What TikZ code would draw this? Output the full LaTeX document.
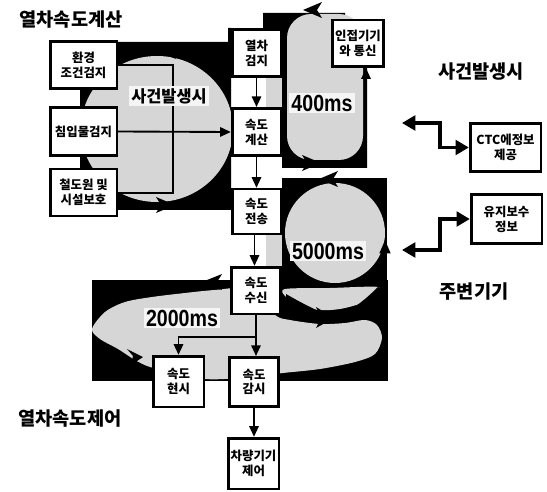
\documentclass[tikz,border=0pt]{standalone}
\usepackage{fontspec}
\setmainfont{Noto Sans CJK KR}
\newfontfamily\krf{Noto Sans CJK KR}
\newfontfamily\arf{Liberation Sans}
\usetikzlibrary{arrows.meta}
\newcommand\boxfont{\krf\bfseries\fontsize{9.3}{11.2}\selectfont}
\newcommand\ttlfont{\krf\bfseries\fontsize{14}{16}\selectfont}
\newcommand\inttlfont{\krf\bfseries\fontsize{12.3}{14}\selectfont}
\newcommand\msfont{\arf\bfseries\fontsize{17.5}{18}\selectfont}
\newcommand\msn[1]{\scalebox{0.84}[1]{#1}}
\begin{document}
\begin{tikzpicture}[x=0.75pt,y=-0.75pt,
  box/.style={draw,line width=2pt,fill=white,inner sep=0pt,align=center,font=\boxfont},
  arr/.style={line width=1.4pt,-{Triangle[length=8pt,width=7pt]}},
  darr/.style={line width=2.8pt,{Triangle[length=10pt,width=11pt]}-{Triangle[length=10pt,width=11pt]}},
  ln/.style={line width=1.4pt},
  blk/.style={fill=black},
  gry/.style={fill=black!16},
  ttl/.style={font=\ttlfont,inner sep=0pt},
  mslab/.style={font=\msfont,fill=black!4,inner sep=1.5pt}
]
\path[use as bounding box] (0,0) rectangle (547,492);

% black backgrounds
\fill[blk] (80,42) -- (228,42) -- (228,28) -- (231,28) -- (231,210) -- (80,210) -- cycle;
\fill[blk] (263,13) -- (345,13) -- (345,30) -- (367,30) -- (367,168) -- (282,168) -- (282,28) -- (263,28) -- cycle;
\fill[blk] (282,178) rectangle (387,292);
\fill[blk] (92,280) rectangle (388,381);

% grey areas
\fill[gry] (157,129) ellipse [x radius=76, y radius=73];
\fill[gry, rounded corners=18pt] (287,14) rectangle (363,160);
\fill[gry] (266,78) rectangle (282,107);
\fill[gry] (335,233) circle [radius=50];
\fill[gry] (266,235) rectangle (282,266);
\fill[gry] plot[smooth cycle, tension=0.5] coordinates {(285,289) (330,288) (378,287) (370,296) (362,303) (340,309) (318,310) (300,305) (286,297)};
\fill[gry] plot[smooth cycle, tension=0.5] coordinates {(92,329) (105,312) (125,302) (152,297) (185,293) (215,290) (250,289) (275,315) (290,320) (320,324) (345,323) (365,320) (377,325) (382,338) (375,354) (355,362) (320,369) (283,373) (240,378) (205,379) (175,372) (150,367) (135,360) (118,349) (100,339)};

% circulating arrowheads
\fill[blk] (157,51) -- (176,43) -- (171,51) -- (176,59) -- cycle;
\fill[blk] (175,205) -- (156,197) -- (161,205) -- (156,213) -- cycle;
\fill[blk] (303,10) -- (322,2) -- (317,10) -- (322,18) -- cycle;
\fill[blk] (321,163) -- (302,155) -- (307,163) -- (302,171) -- cycle;
\fill[blk] (319,179) -- (338,171) -- (333,179) -- (338,187) -- cycle;
\fill[blk] (202,282) -- (222,274) -- (217,282) -- (222,290) -- cycle;
\fill[blk] (334,318) -- (316,307) -- (321,318) -- (316,328) -- cycle;
\fill[blk] (143,357) -- (127,349) -- (133,356) -- (131,365) -- cycle;
\fill[blk] (286,294) .. controls (305,305) and (320,312) .. (334,318) -- (334,322) .. controls (320,318) and (300,318) .. (286,318) -- cycle;
\fill[blk] (334,318) .. controls (350,312) and (365,300) .. (378,287) -- (387,292) -- (387,325) .. controls (380,318) and (360,318) .. (334,322) -- cycle;

% boxes
\node[box, minimum width=50pt, minimum height=35.5pt] (env) at (83.5,65) {환경\\조건검지};
\node[box, minimum width=50pt, minimum height=36pt] (intr) at (83.5,131.5) {침입물검지};
\node[box, minimum width=50pt, minimum height=35pt] (rail) at (83.5,192.5) {철도원 및\\시설보호};
\node[box, minimum width=36.5pt, minimum height=35.5pt] (det) at (256.5,53) {열차\\검지};
\node[box, minimum width=36.5pt, minimum height=35.5pt] (calc) at (256.5,132) {속도\\계산};
\node[box, minimum width=36.5pt, minimum height=33.5pt] (send) at (256.5,211.5) {속도\\전송};
\node[box, minimum width=37pt, minimum height=35pt] (recv) at (256,290.5) {속도\\수신};
\node[box, minimum width=38pt, minimum height=38pt] (disp) at (178.5,381.5) {속도\\현시};
\node[box, minimum width=37pt, minimum height=37pt] (mon) at (254,382) {속도\\감시};
\node[box, minimum width=38pt, minimum height=38pt] (veh) at (253.5,463.5) {차량기기\\제어};
\node[box, minimum width=38.5pt, minimum height=35pt] (adj) at (358,43.5) {인접기기\\와 통신};
\node[box, minimum width=53pt, minimum height=36pt] (ctc) at (505.5,147.5) {CTC에정보\\제공};
\node[box, minimum width=53pt, minimum height=37pt] (mnt) at (506.5,219) {유지보수\\정보};

% inner lines of the left loop
\coordinate (lt) at (173,65);
\coordinate (lb) at (173,193);
\draw[ln] (env.east) -- (lt) -- (lb) -- (rail.east |- lb);
\draw[arr] (intr.east) -- (calc.west);

% labels on grey
\node[font=\inttlfont, fill=black!4, inner sep=2pt] (evt) at (169,96) {사건발생시};
\node[mslab] (t400) at (322,103) {\msn{400ms}};
\node[mslab] (t5000) at (328,251) {\msn{5000ms}};
\node[mslab] (t2000) at (182,318) {\msn{2000ms}};

% column arrows
\draw[arr] (det.south) -- (calc.north);
\draw[arr] (calc.south) -- (send.north);
\draw[arr] ([xshift=-1.5]send.south) -- ([xshift=-1.5]send.south |- recv.north);
\draw[arr] (recv.south) -- (recv.south |- mon.north);
\coordinate (br) at (256,337);
\draw[arr] (br) -- (disp.north |- br) -- (disp.north);
\draw[arr] (mon.south) -- (mon.south |- veh.north);

% side arrows on the loops
\coordinate (ua) at (366,165);
\draw[arr] (ua) -- (ua |- adj.south);
\coordinate (ma) at (385,290);
\draw[line width=1.6pt,-{Triangle[length=10pt,width=8pt]}] (ma) -- (385,240);

% double arrows to the right boxes
\coordinate (c1) at (402,123);
\coordinate (c2) at (440,123);
\draw[darr] (c1) -- (c2) -- (c2 |- ctc.west) -- (ctc.west);
\coordinate (m1) at (402,250);
\coordinate (m2) at (440,250);
\draw[darr] (m1) -- (m2) -- (m2 |- mnt.west) -- (mnt.west);

% titles
\node[ttl] (t1) at (71,20) {열차속도계산};
\node[ttl] (t2) at (481,72) {사건발생시};
\node[ttl] (t3) at (474,292) {주변기기};
\node[ttl] (t4) at (70,419) {열차속도제어};
\end{tikzpicture}
\end{document}
